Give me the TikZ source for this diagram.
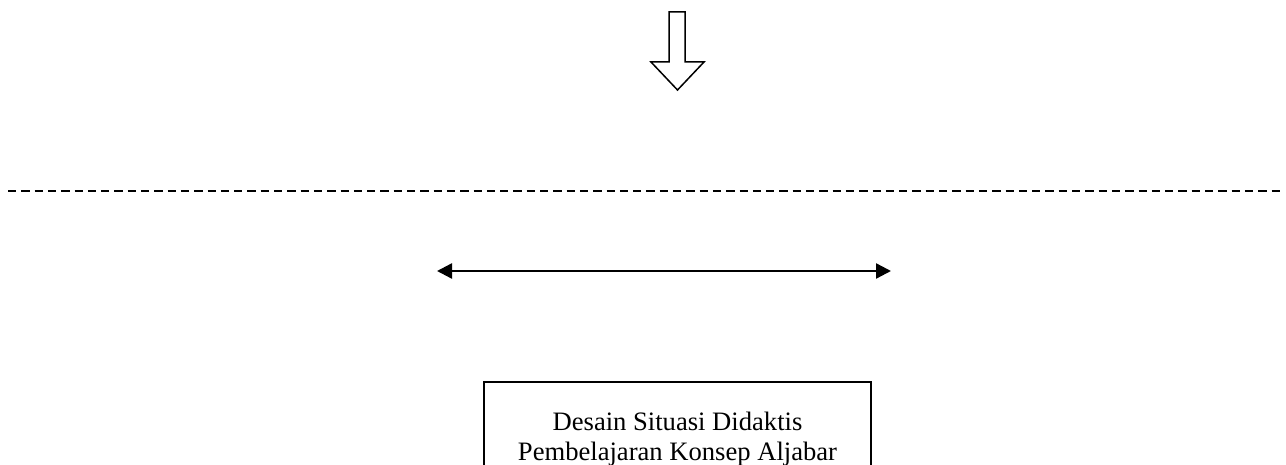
\documentclass[tikz,border=0pt]{standalone}
\usepackage{fontspec}
\setmainfont{Liberation Serif}
\usetikzlibrary{arrows.meta}
\tikzset{
  outline/.style={draw=black, line width=1.5pt},
  boxstyle/.style={draw=black, line width=1.5pt, align=center, minimum width=387pt,
    inner xsep=0pt, inner ysep=30pt, anchor=north,
    font=\fontsize{26.6pt}{30pt}\selectfont},
  dashline/.style={draw=black, line width=2.4pt, dash pattern=on 8.3pt off 5pt},
  dblarrow/.style={draw=black, line width=2.4pt, {Triangle[length=15pt,width=15pt]}-{Triangle[length=15pt,width=15pt]}}
}
\begin{document}
\begin{tikzpicture}[x=1pt,y=-1pt]
\useasboundingbox (0,0) rectangle (1286,465);
\clip (0,0) rectangle (1286,465);
% hollow down arrow
\draw[outline, line join=miter] (669,12) -- (685,12) -- (685,62) -- (704,62) -- (677.5,90) -- (651,62) -- (669,62) -- cycle;
% dashed line
\coordinate (dl) at (8,191);
\coordinate (dr) at (1281,191);
\draw[dashline] (dl) -- (dr);
% double arrow
\coordinate (al) at (437,271);
\coordinate (ar) at (891,271);
\draw[dblarrow] (al) -- (ar);
% box
\node[boxstyle] (box) at (677.5,381) {Desain Situasi Didaktis\\Pembelajaran Konsep Aljabar};
\end{tikzpicture}
\end{document}
